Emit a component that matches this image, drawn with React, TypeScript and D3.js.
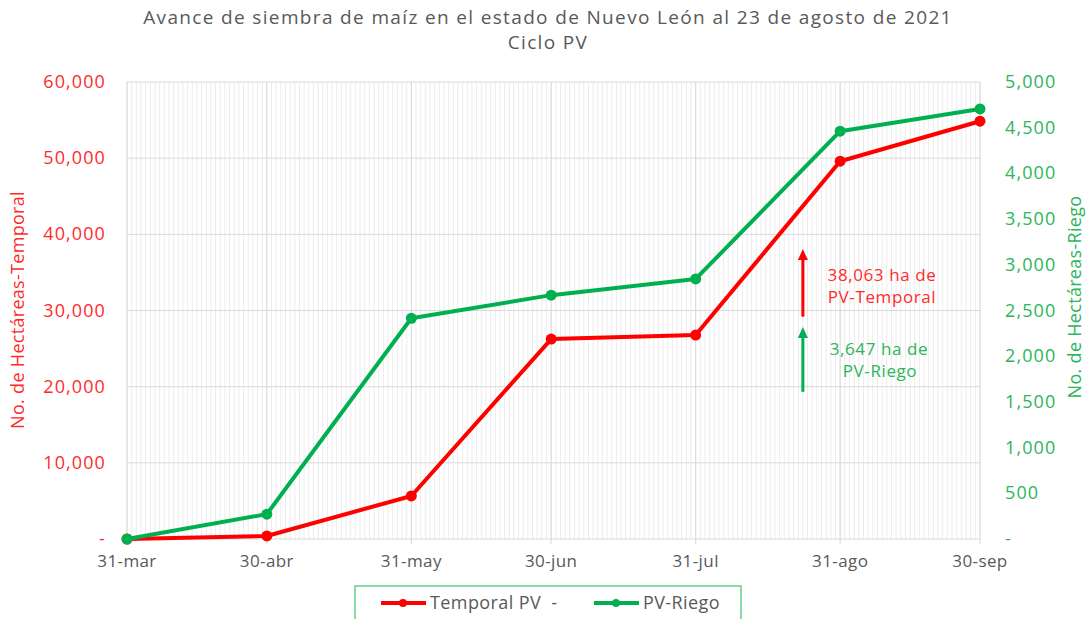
import React from "react";
import * as d3 from "d3";

// fechas de corte (último día de cada mes)
const dates = ["2021-03-31", "2021-04-30", "2021-05-31", "2021-06-30", "2021-07-31", "2021-08-31", "2021-09-30"];
const tickLabels = ["31-mar", "30-abr", "31-may", "30-jun", "31-jul", "31-ago", "30-sep"];

// hectáreas sembradas
const temporal = [0, 400, 5650, 26250, 26780, 49600, 54850];
const riego = [0, 272, 2415, 2668, 2845, 4462, 4705];

const leftTicks = [0, 10000, 20000, 30000, 40000, 50000, 60000];
const rightTicks = [0, 500, 1000, 1500, 2000, 2500, 3000, 3500, 4000, 4500, 5000];

const RED = "#ff0000";
const GREEN = "#00b050";
const RED_TXT = "#ff2b2b";
const GREEN_TXT = "#2cb55a";
const GREY = "#595959";
const FONT = "'Open Sans', sans-serif";

const parse = d3.timeParse("%Y-%m-%d");

export default function App() {
  const width = 1090;
  const height = 619;
  const m = { left: 127, right: 980, top: 82, bottom: 539 };

  const x = d3
    .scaleTime()
    .domain([parse(dates[0])!, parse(dates[dates.length - 1])!])
    .range([m.left, m.right]);
  const yL = d3.scaleLinear().domain([0, 60000]).range([m.bottom, m.top]);
  const yR = d3.scaleLinear().domain([0, 5000]).range([m.bottom, m.top]);

  const fmt = (v: number) => (v === 0 ? "-" : d3.format(",")(v));

  const days = d3.timeDay.range(x.domain()[0], d3.timeDay.offset(x.domain()[1], 1));

  const redPts = dates.map((d, i) => [x(parse(d)!), yL(temporal[i])] as [number, number]);
  const greenPts = dates.map((d, i) => [x(parse(d)!), yR(riego[i])] as [number, number]);
  const line = d3.line();

  // flechas de avance al 23 de agosto
  const ax = x(parse("2021-08-23")!);
  const redTop = yL(38063);
  const redBot = yL(29200);
  const grnTop = yR(2320);
  const grnBot = yR(1610);

  const arrow = (x0: number, y0: number, y1: number, color: string) => (
    <g>
      <line x1={x0} x2={x0} y1={y0} y2={y1 + 9} stroke={color} strokeWidth={3} />
      <path d={`M${x0},${y1} L${x0 - 5},${y1 + 11} L${x0 + 5},${y1 + 11} Z`} fill={color} />
    </g>
  );

  const tickStyle = { fontSize: 18, letterSpacing: 1.1 };

  return (
    <svg
      width={width}
      height={height}
      style={{ position: "absolute", left: 0, top: 0, background: "#fff" }}
      fontFamily={FONT}
    >
      {/* título */}
      <text x={548} y={24} textAnchor="middle" fontSize={19} letterSpacing={1.35} fill={GREY}>
        Avance de siembra de maíz en el estado de Nuevo León al 23 de agosto de 2021
      </text>
      <text x={548} y={49} textAnchor="middle" fontSize={19} letterSpacing={1.35} fill={GREY}>
        Ciclo PV
      </text>

      {/* rejilla menor diaria */}
      {days.map((d, i) => (
        <line key={i} x1={x(d)} x2={x(d)} y1={m.top} y2={m.bottom} stroke="#ececec" strokeWidth={1} />
      ))}
      {/* rejilla mayor */}
      {dates.map((d) => (
        <line key={d} x1={x(parse(d)!)} x2={x(parse(d)!)} y1={m.top} y2={m.bottom + 5} stroke="#d9d9d9" strokeWidth={1} />
      ))}
      {leftTicks.map((t) => (
        <line key={t} x1={m.left} x2={m.right} y1={yL(t)} y2={yL(t)} stroke="#d9d9d9" strokeWidth={1} />
      ))}

      {/* eje izquierdo */}
      {leftTicks.map((t) => (
        <text key={t} x={106} y={yL(t) + 6} textAnchor="end" {...tickStyle} fill={RED_TXT}>
          {fmt(t)}
        </text>
      ))}
      <text
        transform={`translate(24,310) rotate(-90)`}
        textAnchor="middle"
        fontSize={18}
        letterSpacing={0.3}
        fill={RED_TXT}
      >
        No. de Hectáreas-Temporal
      </text>

      {/* eje derecho */}
      {rightTicks.map((t) => (
        <text key={t} x={1005} y={yR(t) + 6} textAnchor="start" {...tickStyle} fill={GREEN_TXT}>
          {fmt(t)}
        </text>
      ))}
      <text
        transform={`translate(1081,297) rotate(-90)`}
        textAnchor="middle"
        fontSize={18}
        letterSpacing={0.3}
        fill={GREEN_TXT}
      >
        No. de Hectáreas-Riego
      </text>

      {/* eje x */}
      {dates.map((d, i) => (
        <text key={d} x={x(parse(d)!)} y={m.bottom + 28} textAnchor="middle" fontSize={17} letterSpacing={0.4} fill={GREY}>
          {tickLabels[i]}
        </text>
      ))}

      {/* series */}
      <path d={line(redPts) ?? ""} fill="none" stroke={RED} strokeWidth={4} strokeLinejoin="round" />
      {redPts.map((p, i) => (
        <circle key={i} cx={p[0]} cy={p[1]} r={5.5} fill={RED} />
      ))}
      <path d={line(greenPts) ?? ""} fill="none" stroke={GREEN} strokeWidth={4} strokeLinejoin="round" />
      {greenPts.map((p, i) => (
        <circle key={i} cx={p[0]} cy={p[1]} r={5.5} fill={GREEN} />
      ))}

      {/* anotaciones */}
      {arrow(ax, redBot, redTop, RED)}
      {arrow(ax, grnBot, grnTop, GREEN)}
      <text x={882} y={281} textAnchor="middle" fontSize={17} letterSpacing={0.6} fill={RED_TXT}>
        38,063 ha de
      </text>
      <text x={882} y={303} textAnchor="middle" fontSize={17} letterSpacing={0.6} fill={RED_TXT}>
        PV-Temporal
      </text>
      <text x={879} y={355} textAnchor="middle" fontSize={17} letterSpacing={0.6} fill={GREEN_TXT}>
        3,647 ha de
      </text>
      <text x={880} y={377} textAnchor="middle" fontSize={17} letterSpacing={0.6} fill={GREEN_TXT}>
        PV-Riego
      </text>

      {/* leyenda */}
      <rect x={355} y={586} width={386} height={45} fill="#fff" stroke="#3cc46a" strokeWidth={1.2} />
      <line x1={381} x2={426} y1={603} y2={603} stroke={RED} strokeWidth={4} />
      <circle cx={403} cy={603} r={4} fill={RED} />
      <text x={430} y={609} fontSize={18} letterSpacing={0.4} fill={GREY} style={{ whiteSpace: "pre" }}>
        {"Temporal PV  -"}
      </text>
      <line x1={594} x2={639} y1={603} y2={603} stroke={GREEN} strokeWidth={4} />
      <circle cx={616} cy={603} r={4} fill={GREEN} />
      <text x={643} y={609} fontSize={18} letterSpacing={0.4} fill={GREY}>
        PV-Riego
      </text>
    </svg>
  );
}
